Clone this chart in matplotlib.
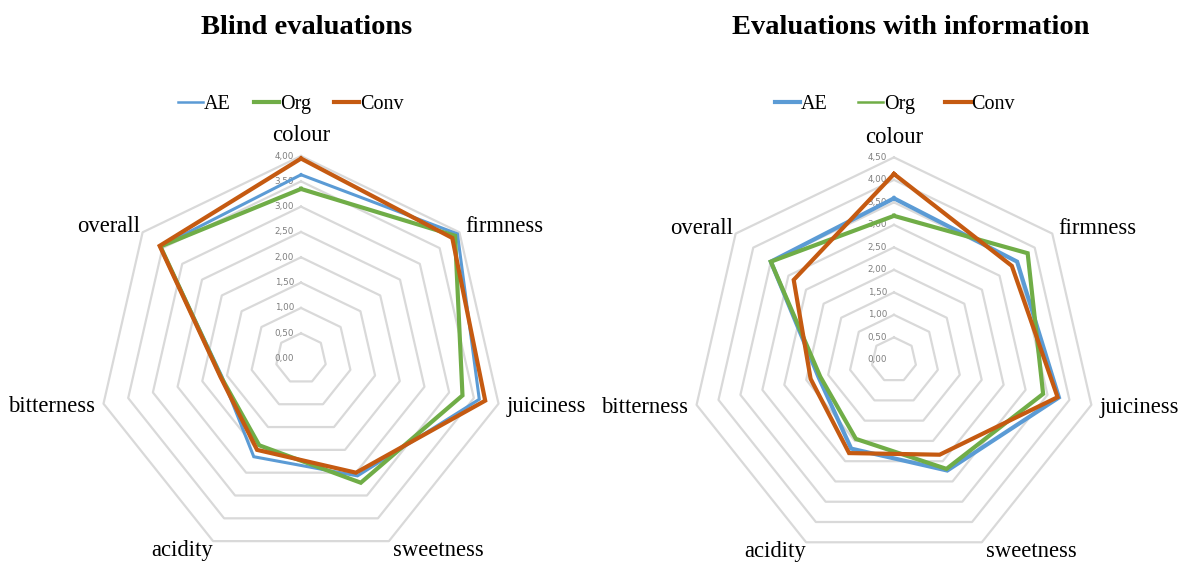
import matplotlib.pyplot as plt
from matplotlib.lines import Line2D
import numpy as np

categories = ['colour', 'firmness', 'juiciness', 'sweetness', 'acidity', 'bitterness', 'overall']
series_names = ['AE', 'Org', 'Conv']

# blind evaluations
blind_ae = [3.63, 3.95, 3.61, 2.57, 2.15, 1.60, 3.55]
blind_org = [3.35, 3.89, 3.27, 2.72, 1.90, 1.62, 3.55]
blind_conv = [3.95, 3.82, 3.73, 2.50, 2.00, 1.63, 3.57]

# evaluations with information
info_ae = [3.59, 3.50, 3.76, 2.73, 2.19, 1.72, 3.50]
info_org = [3.20, 3.80, 3.40, 2.69, 1.95, 1.68, 3.50]
info_conv = [4.13, 3.35, 3.73, 2.34, 2.30, 1.90, 2.85]

colors = ['#5b9bd5', '#70ad47', '#c55a11']
serif = 'Liberation Serif'

# offsets of the category labels (points) and alignment
label_pos = [
    (0, 7, 'center', 'bottom'),
    (4, 4, 'left', 'center'),
    (6, -2, 'left', 'center'),
    (3, -7, 'left', 'center'),
    (0, -7, 'right', 'center'),
    (-6, -2, 'right', 'center'),
    (-2, 4, 'right', 'center'),
]


def radar(ax, values, rmax, widths):
    n = len(categories)
    theta = np.arange(n) * 2 * np.pi / n
    tc = np.append(theta, theta[0])
    ax.set_theta_zero_location('N')
    ax.set_theta_direction(-1)
    ax.set_ylim(0, rmax)
    ax.set_axis_off()

    levels = np.arange(0.5, rmax + 0.01, 0.5)
    for lv in levels:
        ax.plot(tc, [lv] * (n + 1), color='#d9d9d9', lw=1.6, clip_on=False, zorder=1)
    for lv in np.append(0, levels):
        ax.annotate(f'{lv:.2f}'.replace('.', ','), (0, lv), xytext=(-5, 0),
                    textcoords='offset points', ha='right', va='center',
                    fontsize=6.3, color='#7f7f7f', family='DejaVu Sans')

    for vals, c, w in zip(values, colors, widths):
        ax.plot(tc, vals + vals[:1], color=c, lw=w, clip_on=False, zorder=3,
                solid_joinstyle='miter')

    for t, name, (dx, dy, ha, va) in zip(theta, categories, label_pos):
        ax.annotate(name, (t, rmax), xytext=(dx, dy), textcoords='offset points',
                    ha=ha, va=va, fontsize=16.3, family=serif)


fig = plt.figure(figsize=(11.8, 5.63), dpi=100)

ax1 = fig.add_axes([0.0834, 0.0032, 0.3434, 0.7197], projection='polar')
radar(ax1, [blind_ae, blind_org, blind_conv], 4.0, [2.2, 3.0, 3.0])
ax2 = fig.add_axes([0.5860, 0.0012, 0.3432, 0.7193], projection='polar')
radar(ax2, [info_ae, info_org, info_conv], 4.5, [3.0, 3.0, 3.0])

fig.text(307 / 1180, 1 - 27 / 563, 'Blind evaluations', ha='center', va='center',
         fontsize=20.5, fontweight='bold', family=serif)
fig.text(911 / 1180, 1 - 27 / 563, 'Evaluations with information', ha='center', va='center',
         fontsize=20.5, fontweight='bold', family=serif)

for x, lws, gap in [(291, [1.8, 3.0, 3.0], 1.15), (895, [3.0, 1.8, 3.0], 1.5)]:
    handles = [Line2D([], [], color=c, lw=w) for c, w in zip(colors, lws)]
    fig.legend(handles, series_names, loc='center', bbox_to_anchor=(x / 1180, 1 - 104 / 563),
               ncol=3, frameon=False, handlelength=1.25, handletextpad=0.05,
               columnspacing=gap, prop={'family': serif, 'size': 14.5})

fig.savefig('out.png', dpi=100)
